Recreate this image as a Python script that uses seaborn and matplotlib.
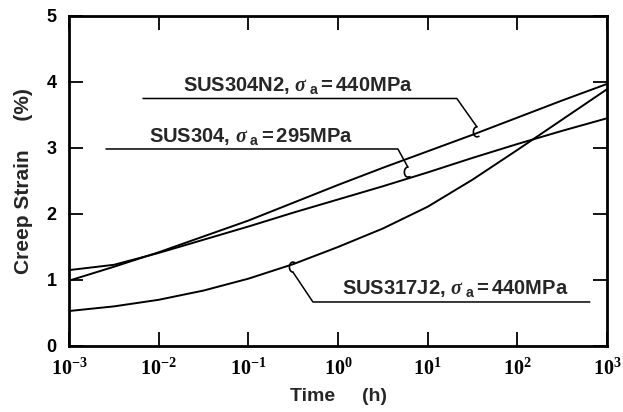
import numpy as np
import pandas as pd
import matplotlib
matplotlib.use("Agg")
import matplotlib.pyplot as plt
import matplotlib.transforms as mtransforms
import seaborn as sns

# ---- data ----
log_time = [-3, -2.5, -2, -1.5, -1, -0.5, 0, 0.5, 1, 1.5, 2, 2.5, 3]
sus304n2 = [0.99, 1.20, 1.42, 1.66, 1.90, 2.17, 2.44, 2.70, 2.95, 3.20, 3.46, 3.72, 3.97]
sus304 = [1.15, 1.23, 1.41, 1.61, 1.81, 2.02, 2.22, 2.42, 2.63, 2.85, 3.06, 3.26, 3.45]
sus317j2 = [0.53, 0.60, 0.70, 0.84, 1.02, 1.24, 1.50, 1.78, 2.11, 2.52, 2.97, 3.43, 3.89]
series_names = ["SUS304N2", "SUS304", "SUS317J2"]
labels = [r"SUS304N2, $\sigma_{\ \mathbf{a}}$$=$440MPa",
          r"SUS304, $\sigma_{\ \mathbf{a}}$$=$295MPa",
          r"SUS317J2, $\sigma_{\ \mathbf{a}}$$=$440MPa"]
xtick_vals = [1e-3, 1e-2, 1e-1, 1e0, 1e1, 1e2, 1e3]
xtick_labels = [r"$\mathsf{10^{-3}}$", r"$\mathsf{10^{-2}}$", r"$\mathsf{10^{-1}}$",
                r"$\mathsf{10^{0}}$", r"$\mathsf{10^{1}}$", r"$\mathsf{10^{2}}$",
                r"$\mathsf{10^{3}}$"]
ytick_vals = [0, 1, 2, 3, 4, 5]

sns.set_style("ticks")
plt.rcParams["font.family"] = ["Liberation Sans", "DejaVu Sans"]
plt.rcParams["font.weight"] = "bold"
plt.rcParams["mathtext.fontset"] = "custom"
plt.rcParams["mathtext.rm"] = "Liberation Sans:bold"
plt.rcParams["mathtext.bf"] = "Liberation Sans:bold"
plt.rcParams["mathtext.it"] = "Liberation Serif:italic"
plt.rcParams["mathtext.sf"] = "Liberation Serif:bold"

t = [10.0 ** v for v in log_time]
df = pd.concat([
    pd.DataFrame({"time": t, "strain": sus304n2, "steel": series_names[0]}),
    pd.DataFrame({"time": t, "strain": sus304, "steel": series_names[1]}),
    pd.DataFrame({"time": t, "strain": sus317j2, "steel": series_names[2]}),
])

fig = plt.figure(figsize=(6.23, 4.12), dpi=100)
ax = fig.add_axes([0.1108, 0.1602, 0.8635, 0.801])
sns.lineplot(data=df, x="time", y="strain", hue="steel",
             palette=["black"] * 3, linewidth=1.4, ax=ax, legend=False,
             sort=True, estimator=None)
ax.set_xscale("log")
ax.set_xlim(1e-3, 1e3)
ax.set_ylim(0, 5)
ax.set_xticks(xtick_vals)
ax.set_xticklabels(xtick_labels, fontsize=14.5)
ax.minorticks_off()
ax.set_yticks(ytick_vals)
ax.set_yticklabels([str(v) for v in ytick_vals], fontsize=13, fontweight="bold")
ax.tick_params(direction="in", length=10, width=1.3, top=True, right=True,
               colors="black", pad=8)
ax.tick_params(axis="y", pad=9)
for s in ax.spines.values():
    s.set_linewidth(2)
    s.set_color("black")
ax.set_xlabel("Time     (h)", fontsize=14, fontweight="bold", labelpad=7)
ax.set_ylabel("Creep Strain     (%)", fontsize=15, fontweight="bold", labelpad=10)

# ---- annotations with leader lines and hooks ----
def hook(xd, yd, up=False):
    th = np.linspace(np.pi / 2, 3 * np.pi / 2, 20)
    hx = 0.035 * np.cos(th)
    hy = -0.05 + 0.05 * np.sin(th)
    hx = np.concatenate([hx, [0.02]])
    hy = np.concatenate([hy, [-0.095]])
    if up:
        hy = -hy
    tr = fig.dpi_scale_trans + mtransforms.ScaledTranslation(xd, yd, ax.transData)
    ax.plot(hx, hy, color="black", lw=1.2, transform=tr, clip_on=False)

# SUS304N2
ax.plot([10 ** -2.175, 10 ** 1.325, 10 ** 1.549], [3.75, 3.75, 3.32], color="black", lw=1.1)
hook(10 ** 1.549, 3.32)
ax.text(10 ** -1.729, 3.87, labels[0], fontsize=14.5, fontweight="bold", va="baseline")
# SUS304
ax.plot([10 ** -2.588, 10 ** 0.668, 10 ** 0.779], [2.985, 2.985, 2.71], color="black", lw=1.1)
hook(10 ** 0.779, 2.71)
ax.text(10 ** -2.108, 3.095, labels[1], fontsize=14.5, fontweight="bold", va="baseline")
# SUS317J2
ax.plot([10 ** 2.808, 10 ** -0.280, 10 ** -0.503], [0.667, 0.667, 1.12], color="black", lw=1.1)
hook(10 ** -0.503, 1.12, up=True)
ax.text(10 ** 0.043, 0.783, labels[2], fontsize=14.5, fontweight="bold", va="baseline")

fig.savefig("out.png", dpi=100)
